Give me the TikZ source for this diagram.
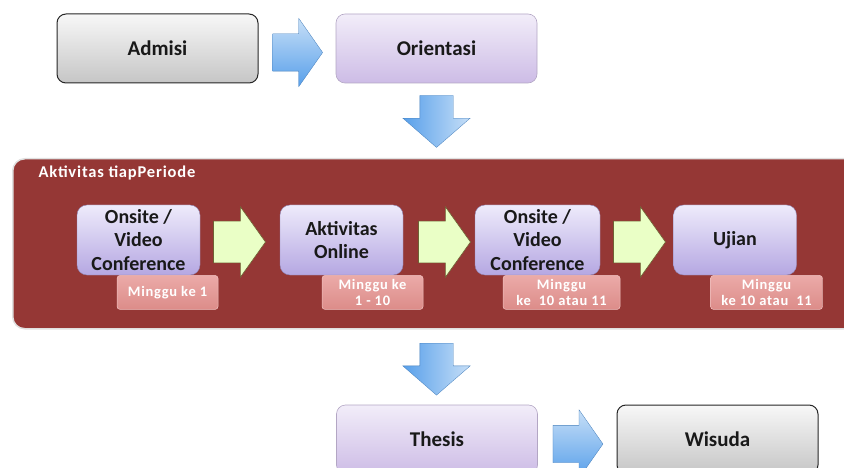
\documentclass[tikz,border=0pt]{standalone}
\usepackage{fontspec}
\setmainfont{Carlito}
\usetikzlibrary{positioning,shapes.arrows,calc}

\definecolor{panelred}{HTML}{953735}
\definecolor{lilactop}{HTML}{F2EDF9}
\definecolor{lilacbot}{HTML}{CDBCE6}
\definecolor{lilacedge}{HTML}{B3A6C4}
\definecolor{cardtop}{HTML}{EEEBFB}
\definecolor{cardbot}{HTML}{B5A7E2}
\definecolor{tagtop}{HTML}{EBAAA8}
\definecolor{tagbot}{HTML}{DC8C89}
\definecolor{bluelight}{HTML}{C7DFF7}
\definecolor{bluedark}{HTML}{579FEA}
\definecolor{greenfill}{HTML}{EAFFC6}
\definecolor{greenedge}{HTML}{6E6234}

\tikzset{
 stagebox/.style={rounded corners=9pt,minimum width=201pt,minimum height=69pt,inner sep=0pt,
  font=\fontsize{21}{24}\selectfont\bfseries,text=black!90},
 graybox/.style={stagebox,draw=black!85,line width=1pt,top color=gray!6,bottom color=gray!45},
 lilacbox/.style={stagebox,draw=lilacedge,line width=0.6pt,top color=lilactop,bottom color=lilacbot},
 stepcard/.style={rounded corners=10pt,minimum width=123pt,minimum height=70pt,inner sep=0pt,
  align=center,font=\fontsize{20}{23.5}\selectfont\bfseries,text=black!90,
  draw=cardbot!80!black,line width=0.4pt,top color=cardtop,bottom color=cardbot},
 weektag/.style={rounded corners=3pt,minimum height=34pt,inner sep=0pt,align=center,
  font=\fontsize{14.5}{16}\selectfont\bfseries\addfontfeatures{LetterSpace=5},text=white,
  draw=tagtop!70!white,line width=0.5pt,top color=tagtop,bottom color=tagbot},
 panelbox/.style={rounded corners=12pt,fill=panelred,draw=black!12,line width=1.5pt,inner sep=0pt},
 blueright/.style={single arrow,anchor=tail,inner xsep=0pt,inner ysep=18.5pt,single arrow head extend=15.5pt,
  single arrow tip angle=110,minimum height=50pt,draw=bluedark!80!black,line width=0.3pt,
  top color=bluelight,bottom color=bluedark},
 bluedown/.style={single arrow,anchor=tail,inner xsep=0pt,inner ysep=16.5pt,single arrow head extend=17pt,
  single arrow tip angle=98,minimum height=52pt,rotate=-90,draw=bluedark!80!black,line width=0.3pt,
  left color=bluedark,right color=bluelight},
 greenright/.style={single arrow,anchor=tail,inner xsep=0pt,inner ysep=20.5pt,single arrow head extend=14.5pt,
  single arrow tip angle=109,minimum height=52pt,fill=greenfill,draw=greenedge,line width=0.6pt}
}

\begin{document}
\begin{tikzpicture}[x=1pt,y=-1pt,node distance=100pt,on grid]
 \useasboundingbox (0,0) rectangle (844,468);
 % top row
 \node[graybox] (admisi) at (157.5,48.5) {Admisi};
 \node[lilacbox] (orientasi)[right=279pt of admisi] {Orientasi};
 \node[blueright] (admisi_to_ori) at ([xshift=14pt,yshift=-4pt]admisi.east) {};
 \node[bluedown] (ori_down) at ([yshift=-12pt]orientasi.south) {};

 % activities per period
 \node[panelbox,anchor=north west,minimum width=900pt,minimum height=170pt] (panel) at (12,158) {};
 \node[anchor=west,text=white,font=\fontsize{16.5}{18}\selectfont\bfseries\addfontfeatures{LetterSpace=5}] (periode) at (35,173) {Aktivitas tiapPeriode};
 \node[stepcard] (onsite_a) at (138.5,240) {Onsite /\\Video\\Conference};
 \node[stepcard] (online)[right=203pt of onsite_a] {Aktivitas\\Online};
 \node[stepcard,minimum width=125pt] (onsite_b)[right=196pt of online] {Onsite /\\Video\\Conference};
 \node[stepcard] (ujian)[right=197.5pt of onsite_b] {Ujian};
 \node[greenright] (g1) at ([xshift=13pt,yshift=-2pt]onsite_a.east) {};
 \node[greenright] (g2) at ([xshift=15pt,yshift=-2pt]online.east) {};
 \node[greenright] (g3) at ([xshift=13pt,yshift=-2pt]onsite_b.east) {};
 \node[weektag,minimum width=101pt,anchor=north west] (week_a) at ([xshift=40pt]onsite_a.south west) {Minggu ke 1};
 \node[weektag,minimum width=101pt,anchor=north west] (week_b) at ([xshift=42pt]online.south west) {Minggu ke\\1 - 10};
 \node[weektag,minimum width=117pt,anchor=north west] (week_c) at ([xshift=28pt]onsite_b.south west) {Minggu\\ke\ \ 10 atau 11};
 \node[weektag,minimum width=112pt,anchor=north west] (week_d) at ([xshift=37pt]ujian.south west) {Minggu\\ke 10 atau\ \ 11};

 % bottom row
 \node[bluedown] (panel_down) at (436.5,343) {};
 \node[lilacbox] (thesis) at (437,439.5) {Thesis};
 \node[graybox] (wisuda)[right=280.5pt of thesis] {Wisuda};
 \node[blueright] (thesis_to_wis) at ([xshift=15pt,yshift=-4.5pt]thesis.east) {};
\end{tikzpicture}
\end{document}
